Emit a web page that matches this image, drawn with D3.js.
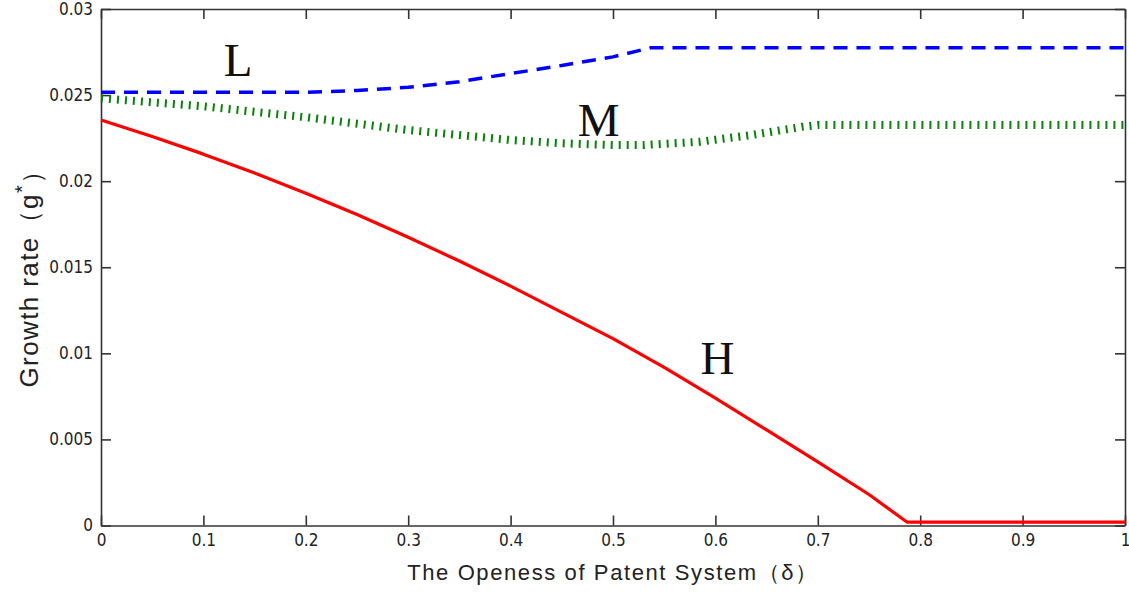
<!DOCTYPE html>
<html>
<head>
<meta charset="utf-8">
<script src="https://cdn.jsdelivr.net/npm/d3@7"></script>
<style>
body { margin: 0; background: #fff; }
.tick text { font-family: "Liberation Sans Narrow", "DejaVu Sans Condensed", "Liberation Sans", sans-serif; font-size: 17px; fill: #222; }
</style>
</head>
<body>
<script>
// readings: delta (x) and growth rate g* (y)
var xTicks = [0, 0.1, 0.2, 0.3, 0.4, 0.5, 0.6, 0.7, 0.8, 0.9, 1];
var yTicks = [0, 0.005, 0.01, 0.015, 0.02, 0.025, 0.03];

var deltaL = [0, 0.1, 0.2, 0.25, 0.3, 0.35, 0.4, 0.45, 0.5, 0.537, 1];
var gL = [0.02516, 0.02516, 0.02516, 0.02527, 0.02545, 0.02578, 0.02625, 0.02672, 0.02722, 0.02775, 0.02775];

var deltaM = [0, 0.1, 0.2, 0.3, 0.4, 0.45, 0.5, 0.53, 0.585, 0.635, 0.685, 0.7, 1];
var gM = [0.02481, 0.02435, 0.02371, 0.02297, 0.02239, 0.0222, 0.0221, 0.0221, 0.02229, 0.02268, 0.02316, 0.02326, 0.02326];

var deltaH = [0, 0.05, 0.1, 0.15, 0.2, 0.25, 0.3, 0.35, 0.4, 0.45, 0.5, 0.55, 0.6, 0.65, 0.7, 0.75, 0.787, 1];
var gH = [0.02355, 0.02259, 0.02157, 0.02047, 0.0193, 0.01806, 0.01674, 0.01536, 0.0139, 0.01238, 0.01085, 0.00918, 0.0074, 0.00555, 0.0037, 0.0018, 0.0002, 0.0002];

var labels = [
    {name: "L", x: 0.134, y: 0.02611},
    {name: "M", x: 0.486, y: 0.02263},
    {name: "H", x: 0.602, y: 0.0088}
];

var w = 1129;
var h = 594;
var margin = {top: 9, right: 4, bottom: 68.5, left: 101};

var svg = d3.select("body")
    .append("svg")
    .attr("width", w)
    .attr("height", h);

svg.append("rect").attr("width", w).attr("height", h).attr("fill", "#fff");

var xScale = d3.scaleLinear()
    .domain([0, 1])
    .range([margin.left, w - margin.right]);

var yScale = d3.scaleLinear()
    .domain([0, 0.03])
    .range([h - margin.bottom, margin.top]);

var fmt = d => d === 0 ? "0" : d3.format("~g")(d);

// axes, ticks pointing inward like matlab
svg.append("g")
    .attr("transform", "translate(0," + (h - margin.bottom) + ")")
    .call(d3.axisBottom(xScale).tickValues(xTicks).tickFormat(fmt).tickSizeInner(-10).tickSizeOuter(0).tickPadding(8));

svg.append("g")
    .attr("transform", "translate(0," + margin.top + ")")
    .call(d3.axisTop(xScale).tickValues(xTicks).tickFormat("").tickSizeInner(-10).tickSizeOuter(0));

svg.append("g")
    .attr("transform", "translate(" + margin.left + ",0)")
    .call(d3.axisLeft(yScale).tickValues(yTicks).tickFormat(fmt).tickSizeInner(-10).tickSizeOuter(0).tickPadding(8));

svg.append("g")
    .attr("transform", "translate(" + (w - margin.right) + ",0)")
    .call(d3.axisRight(yScale).tickValues(yTicks).tickFormat("").tickSizeInner(-10).tickSizeOuter(0));

svg.selectAll(".domain, .tick line").attr("stroke", "#333").attr("stroke-width", 1.6);

function drawLine(xs, ys, color, width, dash) {
    var pts = xs.map((d, i) => [d, ys[i]]);
    var line = d3.line()
        .x(d => xScale(d[0]))
        .y(d => yScale(d[1]));
    svg.append("path")
        .datum(pts)
        .attr("d", line)
        .attr("fill", "none")
        .attr("stroke", color)
        .attr("stroke-width", width)
        .attr("stroke-linejoin", "round")
        .attr("stroke-dasharray", dash);
}

drawLine(deltaM, gM, "#0a800a", 8, "2,6");
drawLine(deltaL, gL, "#0000ff", 3.5, "14,9");
drawLine(deltaH, gH, "#ff0000", 3.2, null);

svg.selectAll("text.curve")
    .data(labels)
    .join("text")
    .attr("class", "curve")
    .attr("x", d => xScale(d.x))
    .attr("y", d => yScale(d.y))
    .attr("text-anchor", "middle")
    .attr("font-family", "Liberation Serif, serif")
    .attr("font-size", "47px")
    .attr("fill", "#111")
    .text(d => d.name);

// axis titles
svg.append("text")
    .attr("x", (margin.left + w - margin.right) / 2)
    .attr("y", 580)
    .attr("text-anchor", "middle")
    .attr("font-family", "Liberation Sans, sans-serif")
    .attr("font-size", "22px")
    .attr("letter-spacing", "1.6px")
    .attr("fill", "#222")
    .text("The Openess of Patent System（δ）");

var yt = svg.append("text")
    .attr("transform", "translate(38,272) rotate(-90)")
    .attr("text-anchor", "middle")
    .attr("font-family", "Liberation Sans, sans-serif")
    .attr("font-size", "26px")
    .attr("letter-spacing", "1.4px")
    .attr("fill", "#222");
yt.append("tspan").text("Growth rate（g");
yt.append("tspan").attr("dy", "-0.45em").attr("font-size", "20px").text("*");
yt.append("tspan").attr("dy", "0.45em").text("）");
</script>
</body>
</html>
